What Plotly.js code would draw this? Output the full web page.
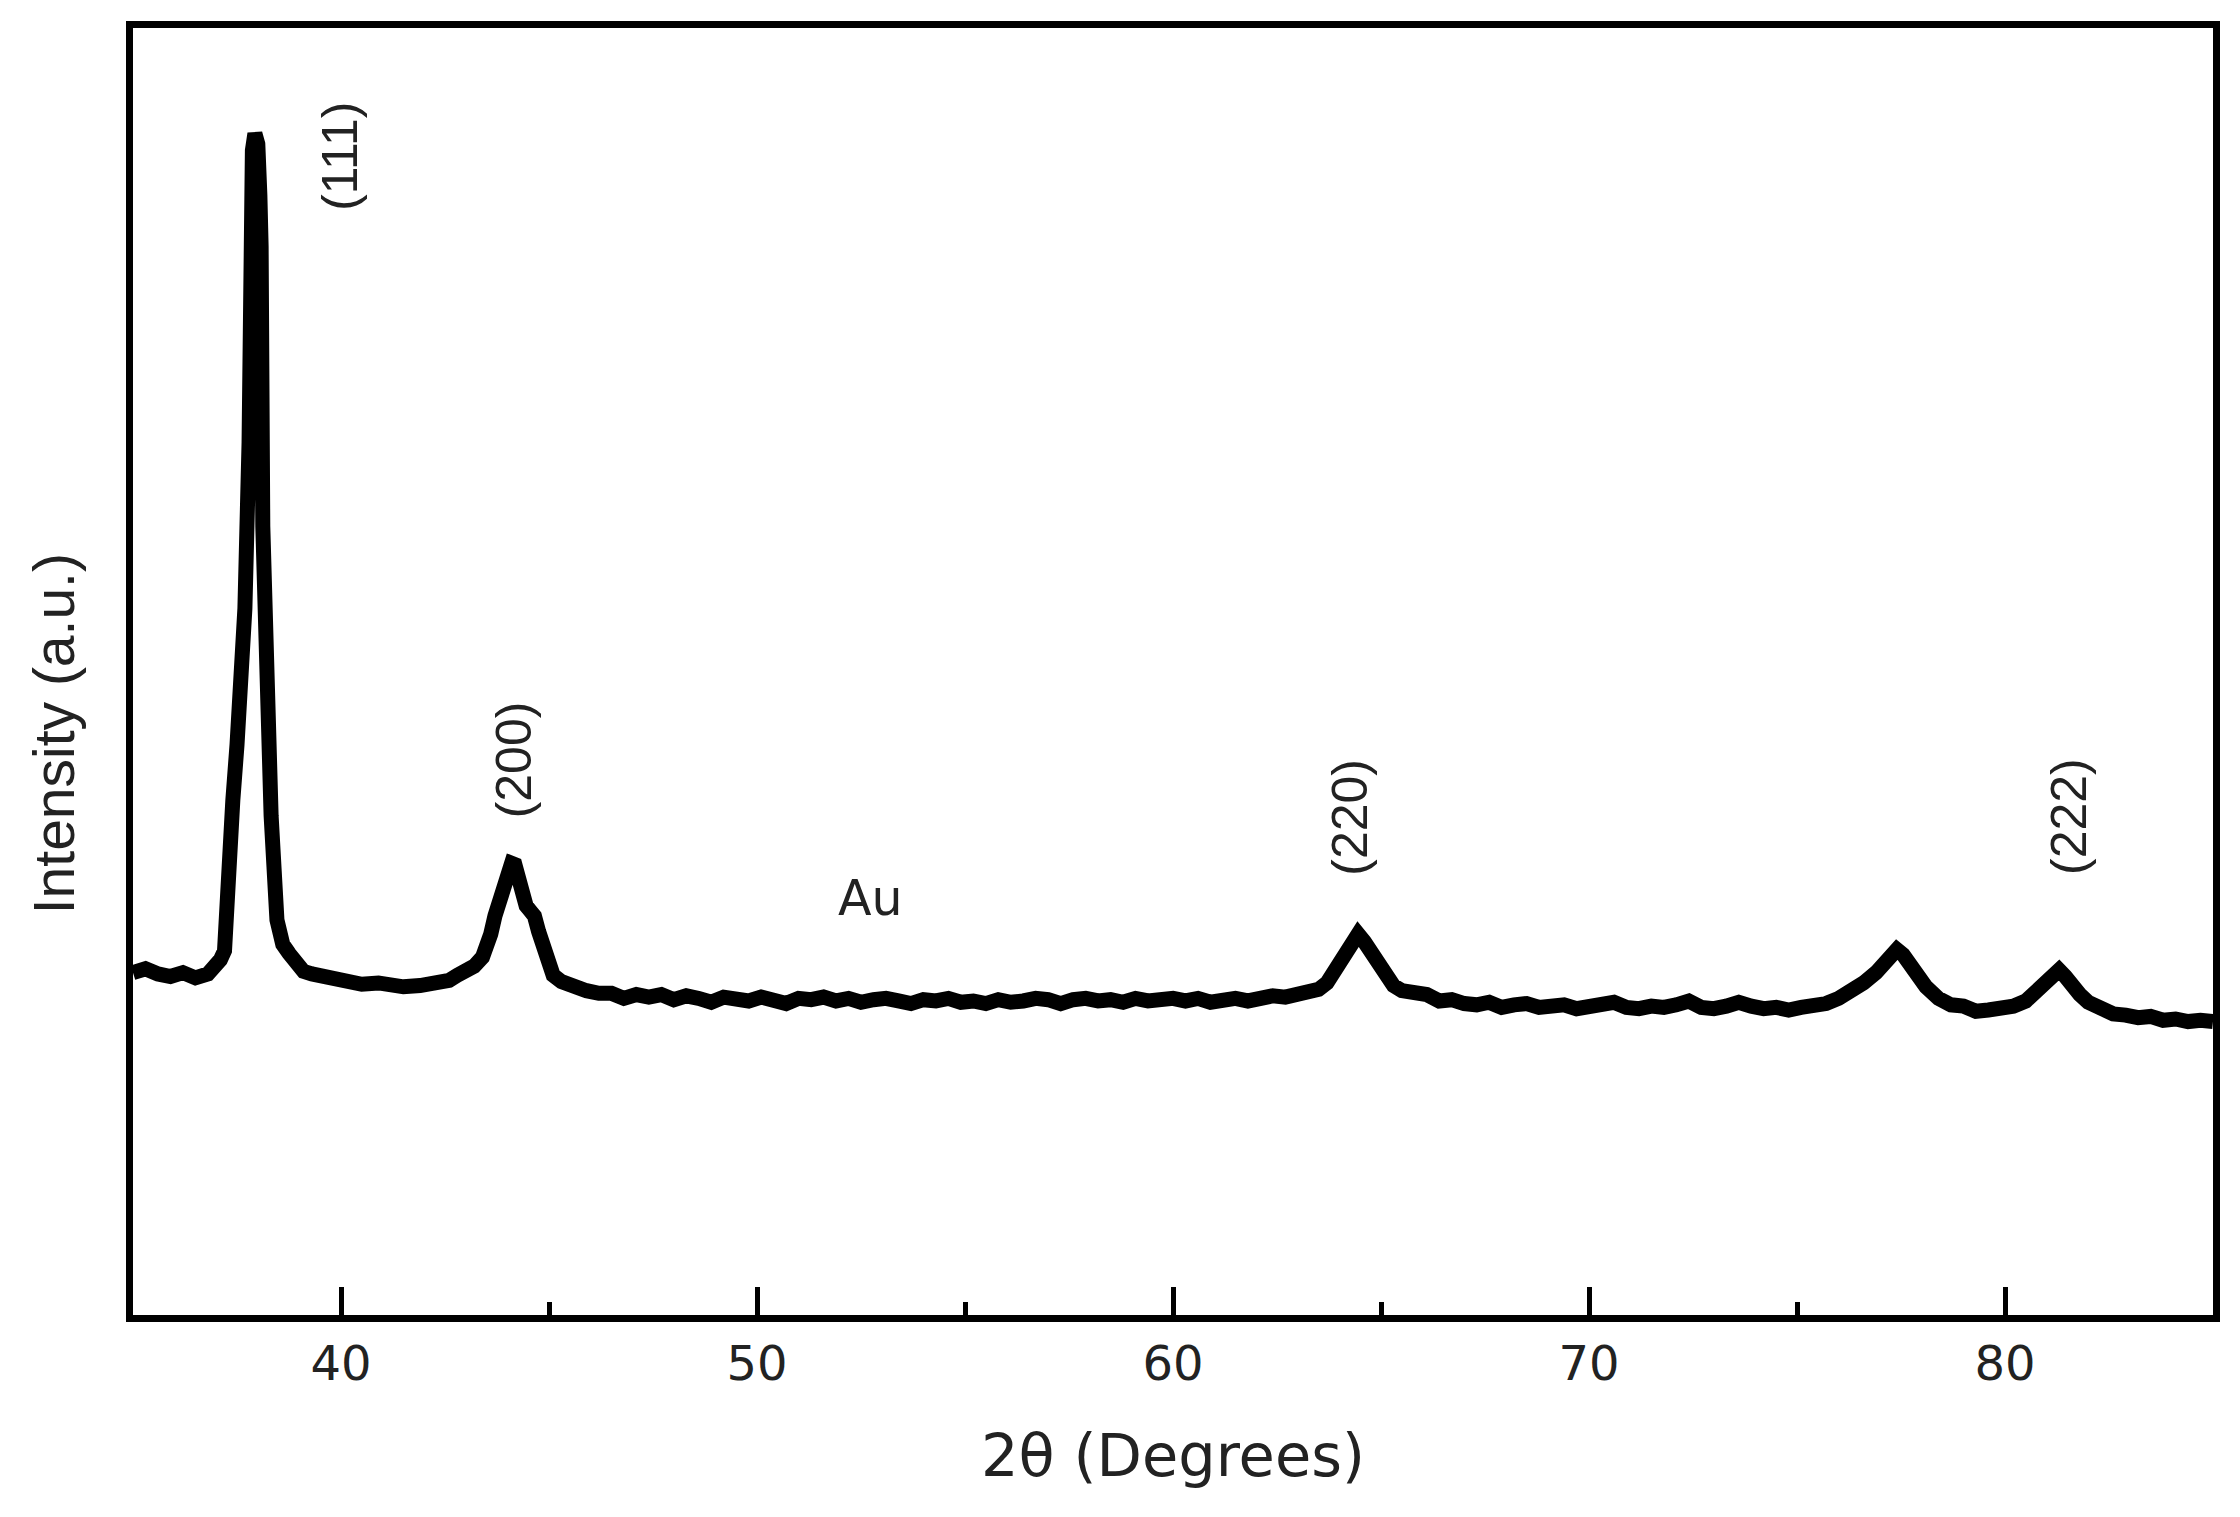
<!DOCTYPE html>
<html>
<head>
<meta charset="utf-8">
<script src="https://cdn.plot.ly/plotly-3.0.1.min.js"></script>
<style>
html,body{margin:0;padding:0;background:#fff;}
#chart{width:2240px;height:1517px;}
</style>
</head>
<body>
<div id="chart"></div>
<script>
// 2θ values (degrees)
var twoTheta = [
35.0,35.3,35.6,35.9,36.2,36.5,36.8,37.0,37.1,37.2,37.28,37.4,37.5,37.6,37.69,37.79,37.82,37.87,37.93,38.0,38.05,38.08,38.12,38.2,38.32,38.46,38.6,38.75,38.9,39.1,
39.3,39.5,39.8,40.1,40.5,40.9,41.2,41.5,41.9,42.3,42.6,42.8,43.0,43.2,43.4,43.5,43.6,43.7,43.8,43.9,44.0,44.1,44.18,44.25,44.35,44.45,44.55,44.65,44.75,44.85,
44.95,45.1,45.3,45.6,45.9,46.2,46.5,46.8,47.1,47.4,47.7,48.0,48.3,48.6,48.9,49.2,49.5,49.8,50.1,50.4,50.7,51.0,51.3,51.6,51.9,52.2,52.5,52.8,53.1,53.4,
53.7,54.0,54.3,54.6,54.9,55.2,55.5,55.8,56.1,56.4,56.7,57.0,57.3,57.6,57.9,58.2,58.5,58.8,59.1,59.4,59.7,60.0,60.3,60.6,60.9,61.2,61.5,61.8,62.1,62.4,
62.7,63.0,63.3,63.5,63.7,63.9,64.1,64.3,64.45,64.6,64.8,64.95,65.1,65.3,65.5,65.8,66.1,66.4,66.7,67.0,67.3,67.6,67.9,68.2,68.5,68.8,69.1,69.4,69.7,70.0,
70.3,70.6,70.9,71.2,71.5,71.8,72.1,72.4,72.7,73.0,73.3,73.6,73.9,74.2,74.5,74.8,75.1,75.4,75.7,76.0,76.3,76.6,76.9,77.1,77.25,77.4,77.55,77.7,77.9,78.1,
78.4,78.7,79.0,79.3,79.6,79.9,80.2,80.5,80.8,81.0,81.15,81.3,81.45,81.6,81.8,82.0,82.3,82.6,82.9,83.2,83.5,83.8,84.1,84.4,84.7,85.0
];
// Intensity (arbitrary units)
var intensity = [
26.6,26.9,26.5,26.3,26.6,26.2,26.5,27.0,27.6,28.3,35.6,40.0,44.3,50.0,54.9,67.8,83.1,90.5,91.8,91.0,87.0,83.0,61.3,46.8,38.8,30.7,28.8,28.1,27.3,26.7,
26.5,26.4,26.1,25.9,25.7,25.8,25.5,25.5,25.6,25.8,26.0,26.4,26.7,27.1,27.8,28.4,29.6,31.0,32.0,33.3,34.6,35.1,35.0,34.1,32.6,31.8,31.4,31.0,29.8,28.7,
27.5,26.4,25.9,25.4,25.2,25.0,25.0,24.6,24.9,24.7,24.9,24.5,24.8,24.6,24.3,24.7,24.6,24.4,24.7,24.5,24.2,24.6,24.5,24.7,24.4,24.6,24.3,24.5,24.6,24.4,
24.2,24.5,24.4,24.6,24.3,24.4,24.2,24.5,24.3,24.4,24.6,24.5,24.2,24.5,24.6,24.4,24.5,24.3,24.6,24.4,24.5,24.6,24.4,24.6,24.3,24.5,24.6,24.4,24.6,24.8,
24.7,24.9,25.0,25.3,25.8,26.8,28.0,29.1,29.6,29.0,27.9,27.0,26.2,25.6,25.2,25.1,24.9,24.4,24.5,24.2,24.1,24.3,23.9,24.1,24.2,23.9,24.0,24.1,23.8,24.0,
24.1,24.3,23.9,23.8,24.0,23.9,24.1,24.4,23.9,23.8,24.0,24.3,24.0,23.8,23.9,23.7,23.9,24.0,24.2,24.6,25.1,25.8,26.6,27.5,28.1,28.4,28.0,27.3,26.4,25.5,
24.6,24.1,24.0,23.6,23.7,23.8,24.0,24.4,25.2,25.9,26.5,26.8,26.3,25.6,24.9,24.3,23.7,23.4,23.3,23.1,23.2,22.9,23.0,22.8,22.9,22.8
];
// Peak labels (Miller indices)
var peakLabels = ["(111)", "(200)", "(220)", "(222)"];
var peakLabelX = [39.98, 44.16, 64.25, 81.54];
var peakLabelY = [90.0, 43.1, 38.7, 38.7];
var sampleLabel = "Au";
var sampleLabelX = 52.74;
var sampleLabelY = 32.4;
var xTickVals = [40, 50, 60, 70, 80];
var xTickText = ["40", "50", "60", "70", "80"];

var annotations = [];
for (var i = 0; i < peakLabels.length; i++) {
  annotations.push({
    x: peakLabelX[i], y: peakLabelY[i], xref: 'x', yref: 'y',
    text: peakLabels[i], showarrow: false, textangle: -90,
    xanchor: 'center', yanchor: 'middle',
    font: {family: 'Liberation Sans, Arial, sans-serif', size: 50, color: '#222'}
  });
}
annotations.push({
  x: sampleLabelX, y: sampleLabelY, xref: 'x', yref: 'y',
  text: sampleLabel, showarrow: false,
  xanchor: 'center', yanchor: 'middle',
  font: {family: 'DejaVu Sans, sans-serif', size: 49, color: '#222'}
});
annotations.push({
  x: -0.038, y: 0.452, xref: 'paper', yref: 'paper',
  text: 'Intensity (a.u.)', showarrow: false, textangle: -90,
  xanchor: 'center', yanchor: 'middle',
  font: {family: 'Liberation Sans, Arial, sans-serif', size: 57, color: '#222'}
});

var trace = {
  x: twoTheta, y: intensity, type: 'scatter', mode: 'lines',
  line: {color: '#000', width: 15, shape: 'linear'},
  hoverinfo: 'x+y'
};

var layout = {
  width: 2240, height: 1517,
  margin: {l: 133, r: 27, t: 28, b: 202, pad: 0},
  paper_bgcolor: '#fff', plot_bgcolor: '#fff',
  showlegend: false,
  xaxis: {
    range: [35, 85], showgrid: false, zeroline: false,
    showline: true, linecolor: '#000', linewidth: 7, mirror: true,
    ticks: 'inside', ticklen: 28, tickwidth: 5, tickcolor: '#000',
    tickvals: xTickVals, ticktext: xTickText,
    minor: {dtick: 5, tick0: 35, ticks: 'inside', ticklen: 13, tickwidth: 5, tickcolor: '#000'},
    tickfont: {family: 'DejaVu Sans, sans-serif', size: 48, color: '#222'},
    title: {text: '2θ (Degrees)', standoff: 48,
      font: {family: 'DejaVu Sans, sans-serif', size: 59, color: '#222'}},
    automargin: false, fixedrange: true
  },
  yaxis: {
    range: [0, 100], showgrid: false, zeroline: false,
    showline: true, linecolor: '#000', linewidth: 7, mirror: true,
    ticks: '', showticklabels: false,
    automargin: false, fixedrange: true
  },
  annotations: annotations
};

Plotly.newPlot('chart', [trace], layout, {displayModeBar: false, staticPlot: true});
</script>
</body>
</html>
